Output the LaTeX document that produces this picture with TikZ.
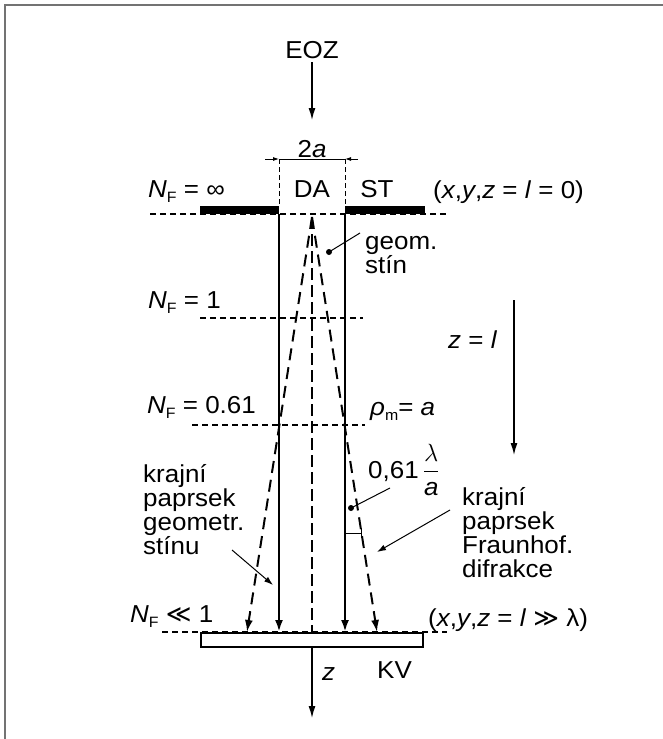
\documentclass[tikz,border=0pt]{standalone}
\usepackage{amsmath}
\usepackage{fontspec}
\setmainfont{Liberation Sans}[FakeStretch=1.06]
\newfontfamily\symfont{DejaVu Sans}
\usetikzlibrary{arrows.meta, positioning}

\newcommand{\sbs}[1]{\raisebox{-5pt}{\fontsize{15}{15}\selectfont #1}}
\newcommand{\NF}{\textit{N}\sbs{F}}

\begin{document}
\begin{tikzpicture}[x=1pt, y=-1pt, font=\fontsize{24.5}{23.8}\selectfont,
    txt/.style={inner sep=0pt, anchor=base west, align=left},
    beam/.style={line width=2.4pt, -{Latex[length=12pt,width=8pt]}},
    ray/.style={line width=2pt, dash pattern=on 12pt off 7pt, -{Latex[length=12pt,width=8pt]}},
    level/.style={line width=1.1pt, dash pattern=on 6pt off 4pt},
    axis/.style={line width=1.1pt, dash pattern=on 12pt off 5pt},
    thinarrow/.style={line width=1.3pt, -{Latex[length=12pt,width=7pt]}},
    pointer/.style={line width=1pt, -{Latex[length=9pt,width=6pt]}},
    dimarrow/.style={line width=0.8pt, -{Latex[length=6pt,width=4pt]}}]
    \useasboundingbox (0,0) rectangle (663,739);
    \draw[line width=2pt, black!55] (5,739) -- (5,5) -- (663,5);

    \node (eoz) at (312,50) {EOZ};
    \coordinate (eoztip) at (312,120);
    \draw[thinarrow] (eoz) -- (eoztip);

    \node[txt, anchor=base] (twoa) at (312,157) {2\textit{a}};
    \coordinate (dl) at (265,159);
    \coordinate (dlt) at (279,159);
    \coordinate (drt) at (345,159);
    \coordinate (dr) at (358,159);
    \draw[line width=0.6pt] (dlt) -- (drt);
    \draw[dimarrow] (dl) -- (dlt);
    \draw[dimarrow] (dr) -- (drt);
    \coordinate (al) at (279,206);
    \coordinate (ar) at (345,206);
    \draw[line width=0.8pt, dash pattern=on 5pt off 3pt] (dlt) -- (al);
    \draw[line width=0.8pt, dash pattern=on 5pt off 3pt] (drt) -- (ar);

    \draw[level] (150,214) -- (447,214);
    \fill (200,206) rectangle (279,214);
    \fill (345,206) rectangle (425,214);
    \draw[level] (200,318) -- (363,318);
    \draw[level] (192,425) -- (365,425);
    \draw[level] (162,632) -- (447,632);

    \coordinate (bl) at (279,214);
    \coordinate (br) at (345,214);
    \coordinate (blp) at (279,632);
    \coordinate (brp) at (345,632);
    \draw[beam] (bl) -- (blp);
    \draw[beam] (br) -- (brp);

    \coordinate (apex) at (312,217);
    \coordinate (rl) at (247,632);
    \coordinate (rr) at (377,632);
    \coordinate (cp) at (312,632);
    \draw[ray] (apex) -- (rl);
    \draw[ray] (apex) -- (rr);
    \draw[axis] (apex) -- (cp);

    \draw[line width=2.8pt, fill=white] (201,633) rectangle (423,647);
    \coordinate (pb) at (312,647);
    \coordinate (zend) at (312,718);
    \draw[thinarrow] (pb) -- (zend);

    \node[txt, anchor=base] (da) at (312,197) {DA};
    \node[txt, anchor=base] (st) at (377,197) {ST};
    \node[txt] (nfinf) at (148,197) {\NF{} = ∞};
    \node[txt] (plane0) at (433,198) {(\textit{x},\textit{y},\textit{z} = \textit{l} = 0)};

    \node[txt] (geom) at (365,273) {geom.\\stín};
    \coordinate (gdot) at (329,252);
    \coordinate (gend) at (360,233);
    \fill (gdot) circle (3pt);
    \draw[line width=1pt] (gdot) -- (gend);

    \node[txt] (nf1) at (148,308) {\NF{} = 1};
    \node[txt] (zl) at (448,348) {\textit{z} = \textit{l}};
    \coordinate (zlt) at (514,300);
    \coordinate (zlb) at (514,455);
    \draw[thinarrow] (zlt) -- (zlb);

    \node[txt] (nf061) at (147,413) {\NF{} = 0.61};
    \node[txt] (rho) at (370,415) {\textit{ρ}\sbs{m}= \textit{a}};

    \node[txt] (ang) at (368,478) {0,61\,$\dfrac{\lambda}{\textit{a}}$};
    \coordinate (adot) at (351,508);
    \coordinate (aend) at (390,488);
    \fill (adot) circle (3pt);
    \draw[line width=1pt] (adot) -- (aend);
    \draw[line width=1pt] (345,533) -- (361,533);
    \draw[line width=1pt] (361,529) -- (361,537);

    \node[txt] (geomray) at (143,554) {krajní\\paprsek\\geometr.\\stínu};
    \coordinate (gp1) at (232,550);
    \coordinate (gp2) at (273,585);
    \draw[pointer] (gp1) -- (gp2);

    \node[txt] (fraunray) at (462,577) {krajní\\paprsek\\Fraunhof.\\difrakce};
    \coordinate (fp1) at (450,510);
    \coordinate (fp2) at (377,552);
    \draw[pointer] (fp1) -- (fp2);

    \node[txt] (nfsmall) at (130,622) {\NF{} {\symfont ≪} 1};
    \node[txt] (planel) at (428,626) {(\textit{x},\textit{y},\textit{z} = \textit{l} {\symfont ≫} λ)};

    \node[txt] (zlab) at (322,680) {\textit{z}};
    \node[txt] (kv) at (377,678) {KV};
\end{tikzpicture}
\end{document}
